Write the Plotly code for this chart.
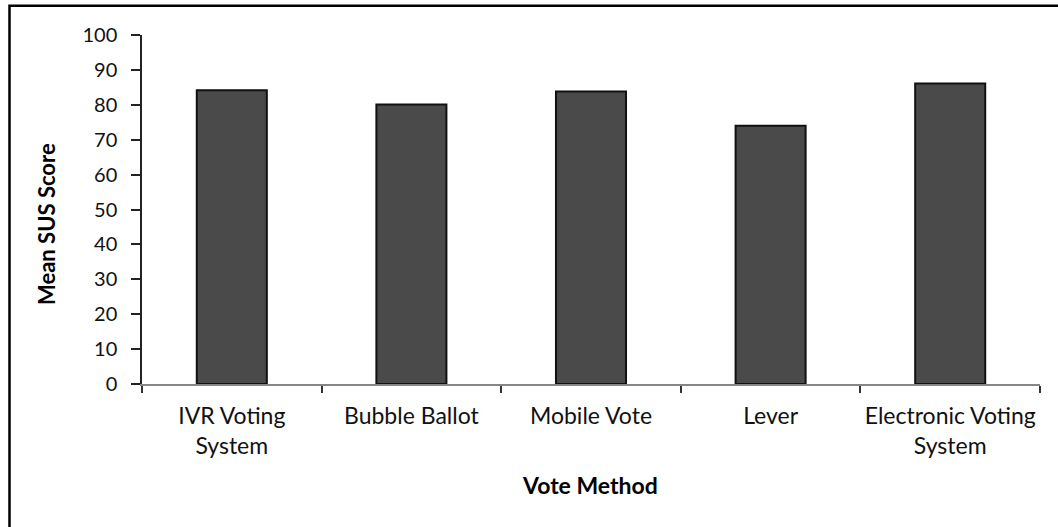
import plotly.graph_objects as go

categories = ["IVR Voting<br>System", "Bubble Ballot", "Mobile Vote", "Lever", "Electronic Voting<br>System"]
scores = [84.2, 80.1, 83.8, 74.0, 86.1]
y_ticks = [0, 10, 20, 30, 40, 50, 60, 70, 80, 90, 100]

W, H = 1058, 527
L, R, T, B = 142, 18, 35, 143
pw, ph = W - L - R, H - T - B

def px_x(p):
    return (p - L) / pw

def px_y(p):
    return (H - B - p) / ph

FONT = "Lato"

fig = go.Figure()
fig.add_trace(go.Bar(
    x=categories, y=scores,
    marker=dict(color="#4a4a4a", line=dict(color="#111111", width=2)),
    width=0.39,
    hoverinfo="x+y",
))

fig.update_layout(
    width=W, height=H,
    margin=dict(l=L, r=R, t=T, b=B, autoexpand=False),
    paper_bgcolor="white", plot_bgcolor="white",
    showlegend=False,
    font=dict(family=FONT, color="#111111"),
    xaxis=dict(
        type="category",
        showline=True, linecolor="#868686", linewidth=1.5,
        ticks="outside", tickson="boundaries", ticklen=7, tickcolor="#333333", tickwidth=1.5,
        tickfont=dict(size=23, family=FONT, color="#111111"),
        tickangle=0,
        ticklabelstandoff=11,
        showgrid=False, zeroline=False,
    ),
    yaxis=dict(
        range=[0, 100], tickvals=y_ticks,
        showline=True, linecolor="#222222", linewidth=1.5,
        ticks="outside", ticklen=9, tickcolor="#222222", tickwidth=1.5,
        tickfont=dict(size=20, family=FONT, color="#111111"),
        ticklabelstandoff=10,
        showgrid=False, zeroline=False,
    ),
    annotations=[
        dict(text="<b>Mean SUS Score</b>", xref="paper", yref="paper",
             x=px_x(46), y=px_y(224), textangle=-90, showarrow=False,
             xanchor="center", yanchor="middle", font=dict(size=22, family=FONT, color="#000000")),
        dict(text="<b>Vote Method</b>", xref="paper", yref="paper",
             x=px_x(590), y=px_y(485), showarrow=False,
             xanchor="center", yanchor="middle", font=dict(size=23, family=FONT, color="#000000")),
    ],
    shapes=[
        dict(type="rect", xref="paper", yref="paper",
             x0=px_x(9.5), y0=-1.0, x1=2.0, y1=px_y(5.8),
             line=dict(color="#000000", width=2.5), fillcolor="rgba(0,0,0,0)", layer="below"),
    ],
)

fig.write_html("out.html")
